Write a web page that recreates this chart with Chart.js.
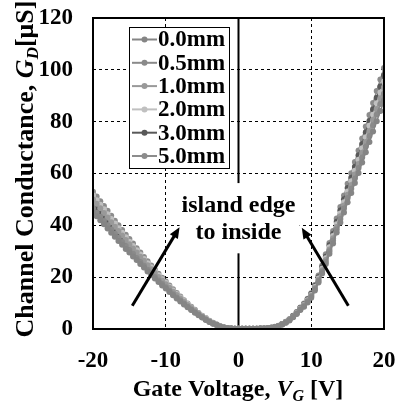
<!DOCTYPE html>
<html>
<head>
<meta charset="utf-8">
<script src="https://cdn.jsdelivr.net/npm/chart.js@4.4.1/dist/chart.umd.min.js"></script>
<style>
  html, body { margin: 0; padding: 0; background: #fff; }
  #wrap { width: 397px; height: 401px; }
</style>
</head>
<body>
<div id="wrap"><canvas id="graficoCondutancia"></canvas></div>
<script>
// gate voltage sweep [V]
const gateVoltage = [
  -20, -19.5, -19, -18.5, -18, -17.5, -17, -16.5, -16, -15.5,
  -15, -14.5, -14, -13.5, -13, -12.5, -12, -11.5, -11, -10.5,
  -10, -9.5, -9, -8.5, -8, -7.5, -7, -6.5, -6, -5.5,
  -5, -4.5, -4, -3.5, -3, -2.5, -2, -1.5, -1, -0.5,
  0, 0.5, 1, 1.5, 2, 2.5, 3, 3.5, 4, 4.5,
  5, 5.5, 6, 6.5, 7, 7.5, 8, 8.5, 9, 9.5,
  10, 10.5, 11, 11.5, 12, 12.5, 13, 13.5, 14, 14.5,
  15, 15.5, 16, 16.5, 17, 17.5, 18, 18.5, 19, 19.5, 20
];

const positionLabels = ['0.0mm', '0.5mm', '1.0mm', '2.0mm', '3.0mm', '5.0mm'];
const lineColors = ['#858585', '#8a8a8a', '#999999', '#c0c0c0', '#595959', '#8c8c8c'];

// channel conductance [uS] for each position
const gd00 = [
  45.0, 43.5, 42.0, 40.4, 38.8, 37.1, 35.6, 34.0, 32.5, 30.9,
  29.5, 28.0, 26.6, 25.1, 23.7, 22.2, 20.8, 19.5, 18.1, 16.8,
  15.6, 14.3, 13.0, 11.8, 10.6, 9.5, 8.4, 7.3, 6.3, 5.3,
  4.4, 3.5, 2.7, 2.0, 1.5, 0.9, 0.5, 0.3, 0.2, 0.1,
  0.05, 0.05, 0.05, 0.05, 0.1, 0.1, 0.15, 0.2, 0.3, 0.5,
  0.7, 1.1, 1.7, 2.4, 3.3, 4.5, 5.8, 7.3, 8.6, 10.2,
  12.1, 14.9, 17.9, 21.4, 25.1, 29.0, 33.0, 37.2, 41.1, 45.0,
  48.9, 52.5, 56.3, 60.2, 64.2, 68.2, 72.2, 76.2, 80.2, 84.1, 88.0
];
const gd05 = [
  46.5, 44.9, 43.3, 41.7, 40.0, 38.4, 36.8, 35.2, 33.6, 32.0,
  30.5, 29.0, 27.4, 25.9, 24.4, 22.9, 21.5, 20.1, 18.7, 17.4,
  16.1, 14.8, 13.4, 12.2, 11.0, 9.8, 8.6, 7.5, 6.5, 5.5,
  4.5, 3.7, 2.8, 2.1, 1.5, 0.9, 0.6, 0.3, 0.2, 0.1,
  0.05, 0.05, 0.05, 0.05, 0.1, 0.1, 0.15, 0.2, 0.3, 0.5,
  0.8, 1.2, 1.7, 2.5, 3.5, 4.6, 6.0, 7.5, 8.8, 10.6,
  12.5, 15.4, 18.5, 22.1, 25.9, 30.0, 34.1, 38.4, 42.4, 46.5,
  50.5, 54.1, 58.1, 62.1, 66.2, 70.4, 74.5, 78.6, 82.8, 86.8, 90.8
];
const gd10 = [
  50.0, 48.3, 46.6, 44.8, 43.0, 41.2, 39.5, 37.8, 36.1, 34.3,
  32.7, 31.1, 29.5, 27.9, 26.3, 24.6, 23.1, 21.6, 20.1, 18.7,
  17.3, 15.9, 14.4, 13.1, 11.8, 10.5, 9.3, 8.1, 7.0, 5.9,
  4.8, 3.9, 3.0, 2.2, 1.6, 1.0, 0.6, 0.35, 0.2, 0.1,
  0.05, 0.05, 0.05, 0.05, 0.1, 0.1, 0.15, 0.2, 0.3, 0.5,
  0.8, 1.2, 1.8, 2.6, 3.5, 4.7, 6.1, 7.7, 9.1, 10.8,
  12.8, 15.8, 19.0, 22.7, 26.6, 30.7, 35.0, 39.4, 43.5, 47.7,
  51.8, 55.6, 59.6, 63.7, 68.0, 72.2, 76.4, 80.7, 84.9, 89.0, 93.2
];
const gd20 = [
  51.5, 49.7, 47.9, 46.2, 44.3, 42.4, 40.7, 38.9, 37.1, 35.4,
  33.7, 32.0, 30.4, 28.7, 27.0, 25.4, 23.8, 22.3, 20.7, 19.2,
  17.8, 16.3, 14.9, 13.5, 12.2, 10.8, 9.6, 8.3, 7.2, 6.0,
  5.0, 4.1, 3.1, 2.3, 1.7, 1.0, 0.6, 0.36, 0.2, 0.1,
  0.05, 0.05, 0.05, 0.05, 0.1, 0.1, 0.15, 0.2, 0.3, 0.5,
  0.8, 1.2, 1.8, 2.6, 3.6, 4.8, 6.3, 7.9, 9.3, 11.1,
  13.1, 16.2, 19.5, 23.2, 27.3, 31.5, 35.9, 40.4, 44.6, 48.9,
  53.1, 57.0, 61.1, 65.3, 69.7, 74.0, 78.4, 82.7, 87.1, 91.3, 95.5
];
const gd30 = [
  48.5, 46.8, 45.2, 43.5, 41.7, 40.0, 38.3, 36.7, 35.0, 33.3,
  31.8, 30.2, 28.6, 27.0, 25.5, 23.9, 22.4, 21.0, 19.5, 18.1,
  16.8, 15.4, 14.0, 12.7, 11.5, 10.2, 9.0, 7.8, 6.8, 5.7,
  4.7, 3.8, 2.9, 2.2, 1.6, 1.0, 0.6, 0.34, 0.2, 0.1,
  0.05, 0.05, 0.05, 0.05, 0.1, 0.1, 0.15, 0.2, 0.3, 0.5,
  0.8, 1.2, 1.9, 2.7, 3.7, 5.0, 6.4, 8.1, 9.5, 11.4,
  13.5, 16.6, 20.0, 23.8, 27.9, 32.3, 36.7, 41.4, 45.7, 50.1,
  54.4, 58.4, 62.6, 67.0, 71.4, 75.9, 80.3, 84.8, 89.2, 93.6, 97.9
];
const gd50 = [
  53.0, 51.1, 49.3, 47.5, 45.6, 43.7, 41.8, 40.0, 38.2, 36.4,
  34.7, 33.0, 31.2, 29.5, 27.8, 26.1, 24.5, 22.9, 21.3, 19.8,
  18.3, 16.8, 15.3, 13.9, 12.5, 11.1, 9.8, 8.6, 7.4, 6.2,
  5.1, 4.2, 3.2, 2.4, 1.7, 1.1, 0.6, 0.37, 0.2, 0.1,
  0.05, 0.05, 0.05, 0.05, 0.1, 0.1, 0.15, 0.2, 0.3, 0.5,
  0.9, 1.3, 1.9, 2.8, 3.8, 5.1, 6.6, 8.3, 9.8, 11.7,
  13.8, 17.0, 20.6, 24.5, 28.8, 33.2, 37.8, 42.6, 47.1, 51.5,
  56.0, 60.1, 64.4, 68.9, 73.5, 78.1, 82.6, 87.2, 91.8, 96.3, 100.7
];

const conductance = [gd00, gd05, gd10, gd20, gd30, gd50];

const xTicks = [-20, -10, 0, 10, 20];
const yTicks = [0, 20, 40, 60, 80, 100, 120];

const SERIF = '"Liberation Serif", "Times New Roman", serif';

// draws a run of text pieces (normal / italic / subscript) centred on (cx, cy)
function drawRich(ctx, parts, cx, cy, angle) {
  ctx.save();
  ctx.translate(cx, cy);
  ctx.rotate(angle);
  ctx.textBaseline = 'alphabetic';
  ctx.textAlign = 'left';
  let total = 0;
  parts.forEach(p => { ctx.font = p.font; total += ctx.measureText(p.t).width; });
  let x = -total / 2;
  parts.forEach(p => {
    ctx.font = p.font;
    ctx.fillStyle = '#000';
    ctx.fillText(p.t, x, p.dy || 0);
    x += ctx.measureText(p.t).width;
  });
  ctx.restore();
}

function arrow(ctx, x1, y1, x2, y2) {
  const ang = Math.atan2(y2 - y1, x2 - x1);
  const head = 12;
  ctx.save();
  ctx.strokeStyle = '#000';
  ctx.fillStyle = '#000';
  ctx.lineWidth = 3;
  ctx.beginPath();
  ctx.moveTo(x1, y1);
  ctx.lineTo(x2 - Math.cos(ang) * head * 0.8, y2 - Math.sin(ang) * head * 0.8);
  ctx.stroke();
  ctx.beginPath();
  ctx.moveTo(x2, y2);
  ctx.lineTo(x2 - head * Math.cos(ang - 0.4), y2 - head * Math.sin(ang - 0.4));
  ctx.lineTo(x2 - head * Math.cos(ang + 0.4), y2 - head * Math.sin(ang + 0.4));
  ctx.closePath();
  ctx.fill();
  ctx.restore();
}

// frame, zero axis, note with arrows, legend box and axis titles
const decoracao = {
  id: 'decoracao',
  beforeDatasetsDraw(chart) {
    const { ctx, chartArea: a, scales: { x, y } } = chart;
    ctx.save();
    ctx.strokeStyle = '#000';
    ctx.lineWidth = 2;
    ctx.beginPath();
    ctx.moveTo(x.getPixelForValue(0), a.top);
    ctx.lineTo(x.getPixelForValue(0), a.bottom);
    ctx.stroke();
    // white panel behind the note
    const l = x.getPixelForValue(-8.1), r = x.getPixelForValue(8.4);
    const t = y.getPixelForValue(56.3), b = y.getPixelForValue(29.2);
    ctx.fillStyle = '#fff';
    ctx.fillRect(l, t, r - l, b - t);
    ctx.fillStyle = '#000';
    ctx.font = 'bold 24px ' + SERIF;
    ctx.textAlign = 'center';
    ctx.textBaseline = 'middle';
    ctx.fillText('island edge', x.getPixelForValue(0), y.getPixelForValue(47.6));
    ctx.fillText('to inside', x.getPixelForValue(0), y.getPixelForValue(37.2));
    ctx.restore();
  },
  afterDatasetsDraw(chart) {
    const { ctx, chartArea: a, scales: { x, y } } = chart;
    arrow(ctx, x.getPixelForValue(-14.6), y.getPixelForValue(9), x.getPixelForValue(-8.1), y.getPixelForValue(39.3));
    arrow(ctx, x.getPixelForValue(15.1), y.getPixelForValue(9), x.getPixelForValue(8.7), y.getPixelForValue(39.1));

    ctx.save();
    ctx.strokeStyle = '#000';
    ctx.lineWidth = 2;
    ctx.strokeRect(a.left, a.top, a.right - a.left, a.bottom - a.top);

    // legend
    ctx.fillStyle = '#fff';
    ctx.fillRect(129.5, 27.5, 100, 141);
    ctx.lineWidth = 1;
    ctx.strokeRect(129.5, 27.5, 100, 141);
    chart.data.datasets.forEach((ds, i) => {
      const ly = 39.5 + i * 23.3;
      ctx.strokeStyle = ds.borderColor;
      ctx.lineWidth = 2;
      ctx.beginPath();
      ctx.moveTo(132, ly);
      ctx.lineTo(157, ly);
      ctx.stroke();
      ctx.fillStyle = ds.borderColor;
      ctx.beginPath();
      ctx.arc(144.5, ly, 3, 0, Math.PI * 2);
      ctx.fill();
      ctx.fillStyle = '#000';
      ctx.font = 'bold 23px ' + SERIF;
      ctx.textAlign = 'left';
      ctx.textBaseline = 'middle';
      ctx.fillText(ds.label, 158, ly + 1);
    });
    ctx.restore();

    const bold = 'bold 24px ' + SERIF;
    const ital = 'italic bold 24px ' + SERIF;
    const sub = 'italic bold 16px ' + SERIF;
    drawRich(ctx, [
      { t: 'Gate Voltage, ', font: bold },
      { t: 'V', font: ital },
      { t: 'G', font: sub, dy: 5 },
      { t: ' [V]', font: bold }
    ], 238, 396, 0);

    const boldY = 'bold 26px ' + SERIF;
    const italY = 'italic bold 26px ' + SERIF;
    const subY = 'italic bold 17px ' + SERIF;
    drawRich(ctx, [
      { t: 'Channel Conductance, ', font: boldY },
      { t: 'G', font: italY },
      { t: 'D', font: subY, dy: 5 },
      { t: '[μS]', font: boldY }
    ], 33, 169, -Math.PI / 2);
  }
};

const ctx = document.getElementById('graficoCondutancia');

new Chart(ctx, {
  type: 'line',
  data: {
    datasets: positionLabels.map((label, i) => ({
      label: label,
      data: gateVoltage.map((v, k) => ({ x: v, y: conductance[i][k] })),
      borderColor: lineColors[i],
      backgroundColor: lineColors[i],
      borderWidth: 1.5,
      pointRadius: 3,
      pointBorderWidth: 0,
      tension: 0
    }))
  },
  options: {
    responsive: true,
    maintainAspectRatio: false,
    animation: false,
    layout: { padding: { top: 18, right: 13, left: 0, bottom: 0 } },
    plugins: {
      legend: { display: false },
      tooltip: { enabled: false }
    },
    scales: {
      x: {
        type: 'linear',
        min: -20,
        max: 20,
        afterBuildTicks: s => { s.ticks = xTicks.map(v => ({ value: v })); },
        afterFit: s => { s.height = 72; s.paddingLeft = 0; s.paddingRight = 0; },
        grid: {
          drawTicks: false,
          color: c => (c.tick && Math.abs(c.tick.value) === 10) ? '#000' : 'rgba(0,0,0,0)',
          lineWidth: 1
        },
        border: { display: false, dash: [3, 3] },
        ticks: {
          padding: 18,
          color: '#000',
          font: { family: SERIF, size: 23, weight: 'bold' }
        }
      },
      y: {
        min: 0,
        max: 120,
        afterBuildTicks: s => { s.ticks = yTicks.map(v => ({ value: v })); },
        afterFit: s => { s.width = 93; s.paddingTop = 0; s.paddingBottom = 0; },
        grid: {
          drawTicks: false,
          color: c => (c.tick && c.tick.value > 0 && c.tick.value < 120) ? '#000' : 'rgba(0,0,0,0)',
          lineWidth: 1
        },
        border: { display: false, dash: [3, 3] },
        ticks: {
          padding: 20,
          color: '#000',
          font: { family: SERIF, size: 23, weight: 'bold' }
        }
      }
    }
  },
  plugins: [decoracao]
});
</script>
</body>
</html>
